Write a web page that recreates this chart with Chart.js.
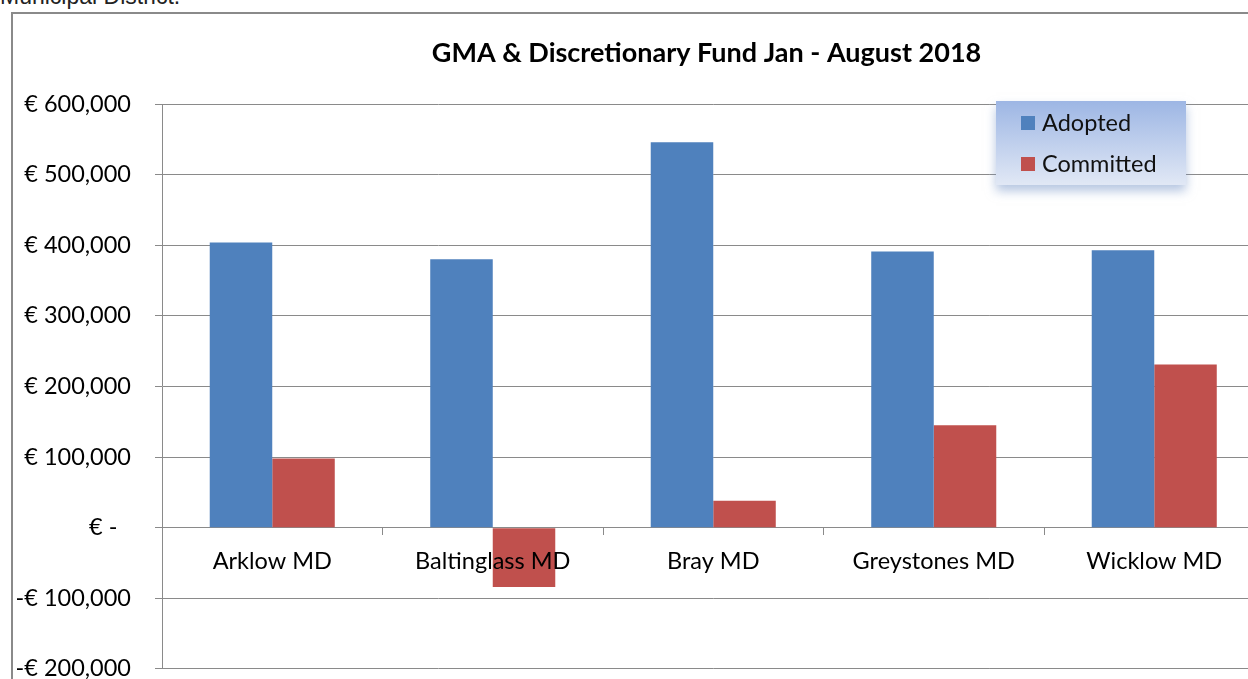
<!DOCTYPE html>
<html>
<head>
<meta charset="utf-8">
<script src="https://cdn.jsdelivr.net/npm/chart.js@4/dist/chart.umd.min.js"></script>
<style>
  html, body { margin: 0; padding: 0; width: 1248px; height: 679px; overflow: hidden; background: #fff; }
  #pre { position: absolute; left: 0; top: -17px; font: 23px "Liberation Sans", Arial, sans-serif; color: #222; white-space: nowrap; }
  #frame { position: absolute; left: 11px; top: 12px; width: 1400px; height: 720px; border-left: 2px solid #8a8a8a; border-top: 2px solid #8a8a8a; }
  #c { position: absolute; left: 0; top: 0; }
</style>
</head>
<body>
<div id="pre">Municipal District.</div>
<div id="frame"><canvas id="c" width="1387" height="693"></canvas></div>
<script>
const categories = ['Arklow MD', 'Baltinglass MD', 'Bray MD', 'Greystones MD', 'Wicklow MD'];
const adopted = [404000, 380000, 546000, 391000, 393000];
const committed = [98000, -84000, 38000, 145000, 231000];
const yTicks = { min: -200000, max: 600000, step: 100000 };
const titleText = 'GMA & Discretionary Fund Jan - August 2018';

const FONT = 'Lato, "Open Sans", sans-serif';
const FS = 23.5;

function euro(v) {
  if (v === 0) return '€ -\u2007';
  const s = '€ ' + Math.abs(v).toLocaleString('en-US');
  return v < 0 ? '-' + s : s;
}

const titleShift = {
  id: 'titleShift',
  afterLayout(chart) {
    const t = chart.titleBlock;
    if (t) { t.left = 0; t.right = chart.width; }
  }
};

const floatLegend = {
  id: 'floatLegend',
  afterDraw(chart) {
    const ctx = chart.ctx;
    const x = 983, y = 87, w = 190, h = 84;
    ctx.save();
    ctx.shadowColor = 'rgba(120,150,200,0.55)';
    ctx.shadowBlur = 10;
    ctx.shadowOffsetY = 6;
    const g = ctx.createLinearGradient(0, y, 0, y + h);
    g.addColorStop(0, '#9db6e4');
    g.addColorStop(1, '#e1e8f5');
    ctx.fillStyle = g;
    ctx.fillRect(x, y, w, h);
    ctx.restore();
    ctx.save();
    ctx.font = FS + 'px ' + FONT;
    ctx.textBaseline = 'middle';
    chart.data.datasets.forEach((ds, i) => {
      const cy = y + 22 + i * 41;
      ctx.fillStyle = ds.backgroundColor;
      ctx.fillRect(x + 25, cy - 7, 14, 14);
      ctx.fillStyle = '#111';
      ctx.fillText(ds.label, x + 46, cy);
    });
    ctx.restore();
  }
};

new Chart(document.getElementById('c'), {
  type: 'bar',
  data: {
    labels: categories,
    datasets: [
      { label: 'Adopted', data: adopted, backgroundColor: '#4F81BD', categoryPercentage: 0.567, barPercentage: 1.0 },
      { label: 'Committed', data: committed, backgroundColor: '#C0504D', categoryPercentage: 0.567, barPercentage: 1.0 }
    ]
  },
  plugins: [titleShift, floatLegend],
  options: {
    responsive: false,
    animation: false,
    layout: { padding: { left: 0, right: 135.5, top: 0, bottom: 11 } },
    plugins: {
      legend: { display: false },
      tooltip: { enabled: false },
      title: {
        display: true,
        text: titleText,
        color: '#000',
        font: { family: FONT, size: 27, weight: 'bold', lineHeight: 1.2 },
        padding: { top: 22.8, bottom: 34.8 }
      }
    },
    scales: {
      x: {
        position: { y: 0 },
        afterFit(scale) { scale.height = 0; },
        grid: { display: true, drawOnChartArea: false, drawTicks: true, tickLength: 7, color: '#8a8a8a', offset: true },
        border: { display: true, color: '#8a8a8a', width: 1 },
        ticks: { color: '#000', font: { family: FONT, size: FS }, padding: 12.5, z: 1, maxRotation: 0, autoSkip: false }
      },
      y: {
        min: yTicks.min,
        max: yTicks.max,
        afterFit(scale) { scale.width = 149; },
        grid: { color: '#8a8a8a', lineWidth: 1, drawTicks: true, tickLength: 7 },
        border: { display: true, color: '#8a8a8a', width: 1 },
        ticks: { stepSize: yTicks.step, color: '#000', font: { family: FONT, size: FS }, padding: 24, callback: euro }
      }
    }
  }
});
</script>
</body>
</html>
